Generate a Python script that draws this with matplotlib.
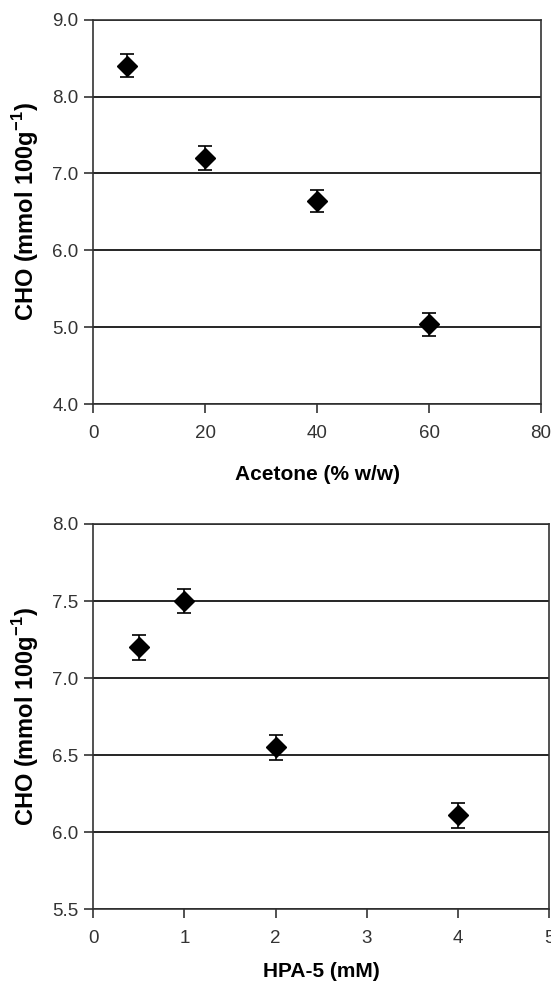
import matplotlib
matplotlib.use("Agg")
import matplotlib.pyplot as plt

plt.rcParams['font.family'] = ['Liberation Sans', 'DejaVu Sans']
plt.rcParams['mathtext.fontset'] = 'custom'
plt.rcParams['mathtext.rm'] = 'Liberation Sans'
plt.rcParams['mathtext.bf'] = 'Liberation Sans:bold'

# Top panel: Acetone
acetone_x = [6, 20, 40, 60]
acetone_cho = [8.40, 7.20, 6.64, 5.04]
acetone_err = [0.15, 0.15, 0.14, 0.15]
acetone_xticks = [0, 20, 40, 60, 80]
acetone_yticks = [4.0, 5.0, 6.0, 7.0, 8.0, 9.0]

# Bottom panel: HPA-5
hpa_x = [0.5, 1, 2, 4]
hpa_cho = [7.20, 7.50, 6.55, 6.11]
hpa_err = [0.08, 0.08, 0.08, 0.08]
hpa_xticks = [0, 1, 2, 3, 4, 5]
hpa_yticks = [5.5, 6.0, 6.5, 7.0, 7.5, 8.0]

ylabel = r'CHO (mmol 100g$^{\mathbf{-1}}$)'

fig = plt.figure(figsize=(5.51, 9.83), dpi=100)
ax1 = fig.add_axes([0.169, 0.589, 0.813, 0.391])
ax2 = fig.add_axes([0.169, 0.0750, 0.8276, 0.3920])

def style(ax, x, y, e, xt, yt, xlabel, xpad):
    ax.errorbar(x, y, yerr=e, fmt='D', color='black', ms=10, capsize=5,
                elinewidth=1.2, capthick=1.2, zorder=3)
    ax.set_xlim(xt[0], xt[-1])
    ax.set_ylim(yt[0], yt[-1])
    ax.set_xticks(xt)
    ax.set_xticklabels([str(v) for v in xt])
    ax.set_yticks(yt)
    ax.set_yticklabels([f'{v:.1f}' for v in yt])
    ax.yaxis.grid(True, color='black', linewidth=1.2)
    ax.set_axisbelow(True)
    for s in ax.spines.values():
        s.set_linewidth(1.2)
        s.set_color('#333333')
    ax.tick_params(axis='both', direction='out', length=6.5, width=1.2,
                   labelsize=13.5, colors='#333333', labelcolor='#333333')
    ax.tick_params(axis='x', pad=8.5)
    ax.tick_params(axis='y', pad=4)
    ax.set_xlabel(xlabel, fontsize=15, fontweight='bold', labelpad=xpad)
    ax.set_ylabel(ylabel, fontsize=17, fontweight='bold', labelpad=8)

style(ax1, acetone_x, acetone_cho, acetone_err, acetone_xticks, acetone_yticks, 'Acetone (% w/w)', 17)
style(ax2, hpa_x, hpa_cho, hpa_err, hpa_xticks, hpa_yticks, 'HPA-5 (mM)', 11)

fig.savefig('out.png', dpi=100)
